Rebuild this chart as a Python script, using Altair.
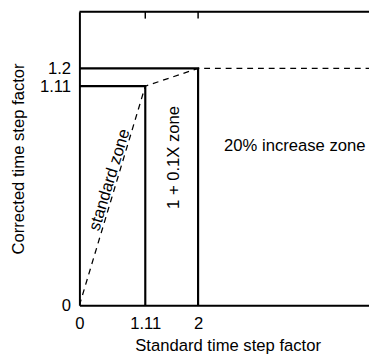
import altair as alt
import pandas as pd

# Data
x_ticks = [0, 1.11, 2]
y_ticks = [0, 1.11, 1.2]
inner_x = [0, 1.11, 1.11]
inner_y = [1.11, 1.11, 0]
outer_x = [0, 2, 2]
outer_y = [1.2, 1.2, 0]
dash_x = [0, 1.11, 2, 5]
dash_y = [0, 1.11, 1.2, 1.2]
top_tick_x = [1.11, 2]

FONT = "Liberation Sans"
FS = 17
W, H = 296, 300

solid = pd.DataFrame({
    "x": inner_x + outer_x,
    "y": inner_y + outer_y,
    "g": ["inner"] * 3 + ["outer"] * 3,
    "o": [0, 1, 2, 0, 1, 2],
})
dashed = pd.DataFrame({"x": dash_x, "y": dash_y, "o": range(len(dash_x))})
ticks_top = pd.DataFrame({"x": top_tick_x})

xs = alt.Scale(domain=[0, 4.88], nice=False, zero=False)
ys = alt.Scale(domain=[0, 1.487], nice=False, zero=False)

x_axis = alt.Axis(
    values=x_ticks, labelExpr="'' + datum.value", title="Standard time step factor", grid=False,
    ticks=False, tickSize=0, labelPadding=11, labelFont=FONT, labelFontSize=FS,
    labelColor="black", labelFlush=False, labelOverlap=False,
    domainColor="black", domainWidth=2,
    titleFont=FONT, titleFontSize=FS, titleFontWeight="normal", titleColor="black",
    titleX=151.5, titleY=41, titleBaseline="middle", titleAlign="center",
)
y_axis = alt.Axis(
    values=y_ticks, labelExpr="'' + datum.value", title="Corrected time step factor", grid=False,
    ticks=False, tickSize=0, labelPadding=9, labelFont=FONT, labelFontSize=FS,
    labelColor="black", labelFlush=False, labelOverlap=False,
    domainColor="black", domainWidth=2,
    titleFont=FONT, titleFontSize=FS, titleFontWeight="normal", titleColor="black",
    titleX=-62, titleY=150, titleAngle=270, titleBaseline="middle", titleAlign="center",
)

solid_lines = alt.Chart(solid).mark_line(color="black", strokeWidth=2.2, clip=True).encode(
    x=alt.X("x:Q", scale=xs, axis=x_axis),
    y=alt.Y("y:Q", scale=ys, axis=y_axis),
    detail="g:N",
    order="o:Q",
)

dash_line = alt.Chart(dashed).mark_line(
    color="black", strokeWidth=1.3, strokeDash=[6, 5], clip=True
).encode(x=alt.X("x:Q", scale=xs), y=alt.Y("y:Q", scale=ys), order="o:Q")

top_border = alt.Chart(pd.DataFrame({"a": [0]})).mark_rule(color="black", strokeWidth=2).encode(
    x=alt.value(0), x2=alt.value(W), y=alt.value(0)
)

top_ticks = alt.Chart(ticks_top).mark_rule(color="black", strokeWidth=1.5).encode(
    x=alt.X("x:Q", scale=xs), y=alt.value(0), y2=alt.value(7)
)

def label(text, xv, yv, angle=0):
    return alt.Chart(pd.DataFrame({"a": [0]})).mark_text(
        text=text, font=FONT, fontSize=FS, color="black", angle=angle,
        align="center", baseline="middle"
    ).encode(x=alt.datum(xv, scale=xs), y=alt.datum(yv, scale=ys))

t1 = label("standard zone", 0.51, 0.635, 287)
t2 = label("1 + 0.1X zone", 1.59, 0.749, 270)
t3 = label("20% increase zone", 3.63, 0.808)

chart = alt.layer(solid_lines, dash_line, top_border, top_ticks, t1, t2, t3).properties(
    width=W, height=H,
    autosize=alt.AutoSizeParams(type="none"),
    padding={"left": 73, "top": 0, "right": 0, "bottom": 47},
).configure_view(stroke=None).configure(background="white")

chart.save("out.html", embed_options={"renderer": "svg", "actions": False})
